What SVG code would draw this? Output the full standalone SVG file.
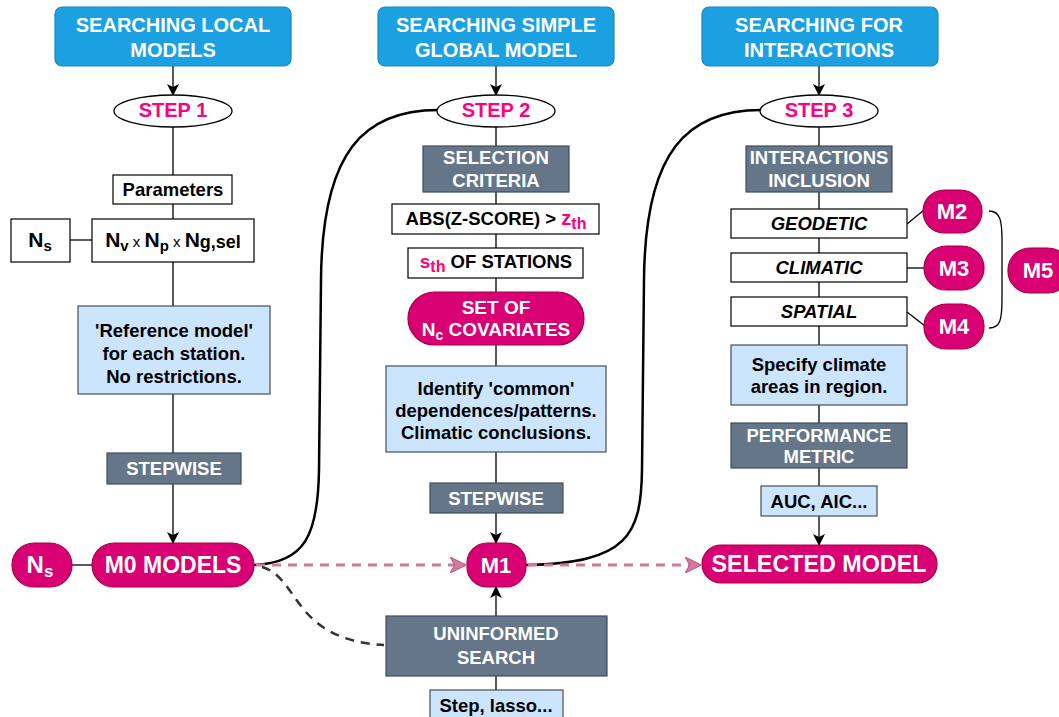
<svg xmlns="http://www.w3.org/2000/svg" width="1059" height="717" viewBox="0 0 1059 717">
<style>
text{font-family:"Liberation Sans",Arial,sans-serif;font-weight:bold;}
.hdr rect{fill:#1ba1e2;stroke:#1a86c4;stroke-width:1.2;}
.hdr text{fill:#fff;font-size:20px;text-anchor:middle;}
.step ellipse{fill:#fff;stroke:#000;stroke-width:1.3;}
.step text{fill:#ff0080;font-size:20px;text-anchor:middle;}
.wbox rect{fill:#fff;stroke:#000;stroke-width:1.2;}
.wbox text{fill:#000;font-size:18.5px;text-anchor:middle;}
.slate rect{fill:#647687;stroke:#3d4d5c;stroke-width:1.2;}
.slate text{fill:#fff;font-size:18.5px;text-anchor:middle;}
.lb rect{fill:#cce5ff;stroke:#4a4d52;stroke-width:1.2;}
.lb text{fill:#000;font-size:18.5px;text-anchor:middle;}
.pk rect{fill:#d80073;stroke:#a50045;stroke-width:1.2;}
.pk text{fill:#fff;font-size:22px;text-anchor:middle;}
.ln{fill:none;stroke:#000;stroke-width:1.3;}
.thick{fill:none;stroke:#000;stroke-width:2.5;}
.pdash{fill:none;stroke:#cf7a9e;stroke-width:3;stroke-dasharray:9 7;}
.ddash{fill:none;stroke:#333;stroke-width:2.5;stroke-dasharray:9 7;}
.pink{fill:#ff0080;}
</style>
<defs>
<marker id="ah" viewBox="0 0 12 12" refX="11" refY="6" markerWidth="12" markerHeight="12" markerUnits="userSpaceOnUse" orient="auto">
<path d="M0,0 L12,6 L0,12 L3,6 Z" fill="#000"/>
</marker>
<marker id="ahp" viewBox="0 0 14 14" refX="13" refY="7" markerWidth="16" markerHeight="16" markerUnits="userSpaceOnUse" orient="auto">
<path d="M0,0 L14,7 L0,14 L4,7 Z" fill="#d27aa0" stroke="#c0608a" stroke-width="1"/>
</marker>
</defs>

<g id="connectors">
<path class="ln" d="M173,66 V95" marker-end="url(#ah)"/>
<path class="ln" d="M496,66 V95" marker-end="url(#ah)"/>
<path class="ln" d="M819,66 V95" marker-end="url(#ah)"/>
<path class="ln" d="M173,127 V175 M173,204 V219 M173,262 V306 M173,394 V453"/>
<path class="ln" d="M173,484 V543" marker-end="url(#ah)"/>
<path class="ln" d="M70,240 H92"/>
<path class="ln" d="M72,565 H92"/>
<path class="ln" d="M496,127 V146 M496,192 V204 M496,234 V248 M496,278 V292 M496,345 V366 M496,452 V483"/>
<path class="ln" d="M496,513 V543" marker-end="url(#ah)"/>
<path class="ln" d="M496,616 V587" marker-end="url(#ah)"/>
<path class="ln" d="M496,690 V676"/>
<path class="ln" d="M819,127 V146 M819,192 V209 M819,238 V253 M819,282 V297 M819,326 V345 M819,405 V423 M819,468 V486"/>
<path class="ln" d="M819,516 V545" marker-end="url(#ah)"/>
<path class="ln" d="M907,224 L924,210"/>
<path class="ln" d="M907,268 H924"/>
<path class="ln" d="M907,312 L925,326"/>
<path class="ln" d="M989,211 C1000,211 1002,220 1002,240 L1002,300 C1002,320 1000,328 989,328"/>
<path class="thick" d="M438,110 C365,110 322,150 321,280 L319,470 C318,535 305,563 254,565"/>
<path class="thick" d="M761,110 C688,110 645,150 644,280 L642,470 C641,535 628,563 526,565"/>
<path class="pdash" d="M256,565 H465" marker-end="url(#ahp)"/>
<path class="pdash" d="M528,565 H700" marker-end="url(#ahp)"/>
<path class="ddash" d="M262,567 C300,578 292,640 384,645"/>
</g>

<g id="hdr1" class="hdr"><rect x="55" y="7" width="236" height="59" rx="7"/><text x="173" y="32">SEARCHING LOCAL</text><text x="173" y="57">MODELS</text></g>
<g id="hdr2" class="hdr"><rect x="378" y="7" width="236" height="59" rx="7"/><text x="496" y="32">SEARCHING SIMPLE</text><text x="496" y="57">GLOBAL MODEL</text></g>
<g id="hdr3" class="hdr"><rect x="702" y="7" width="236" height="59" rx="7"/><text x="819" y="32">SEARCHING FOR</text><text x="819" y="57">INTERACTIONS</text></g>

<g id="step1" class="step"><ellipse cx="173" cy="111" rx="59" ry="16"/><text x="173" y="117">STEP 1</text></g>
<g id="step2" class="step"><ellipse cx="496" cy="111" rx="59" ry="16"/><text x="496" y="117">STEP 2</text></g>
<g id="step3" class="step"><ellipse cx="819" cy="111" rx="59" ry="16"/><text x="819" y="117">STEP 3</text></g>

<g id="params" class="wbox"><rect x="113" y="175" width="119" height="29"/><text x="173" y="196">Parameters</text></g>
<g id="ns1" class="wbox"><rect x="11" y="219" width="59" height="43"/><text x="40" y="247" style="font-size:21px">N<tspan font-size="15" dy="4">s</tspan></text></g>
<g id="nvnp" class="wbox"><rect x="92" y="219" width="162" height="43"/><text x="173" y="247" style="font-size:21px">N<tspan font-size="15" dy="4">v</tspan><tspan font-size="15" font-weight="normal" dy="-4"> x </tspan>N<tspan font-size="15" dy="4">p</tspan><tspan font-size="15" font-weight="normal" dy="-4"> x </tspan>N<tspan font-size="18" dy="1">g,sel</tspan></text></g>
<g id="refmodel" class="lb"><rect x="78" y="306" width="192" height="88"/><text x="174" y="337">'Reference model'</text><text x="174" y="360">for each station.</text><text x="174" y="383">No restrictions.</text></g>
<g id="stepwise1" class="slate"><rect x="107" y="453" width="134" height="31"/><text x="174" y="475">STEPWISE</text></g>
<g id="ns2" class="pk"><rect x="12" y="543" width="60" height="44" rx="22"/><text x="40" y="573" style="font-size:24px">N<tspan font-size="17" dy="4">s</tspan></text></g>
<g id="m0" class="pk"><rect x="92" y="543" width="162" height="44" rx="22"/><text x="173" y="573" style="font-size:23px">M0 MODELS</text></g>

<g id="selcrit" class="slate"><rect x="423" y="146" width="146" height="46"/><text x="496" y="164">SELECTION</text><text x="496" y="187">CRITERIA</text></g>
<g id="abs" class="wbox"><rect x="392" y="204" width="207" height="30"/><text x="496" y="225">ABS(Z-SCORE) &gt; <tspan class="pink" font-size="20">z</tspan><tspan class="pink" font-size="16" dy="4">th</tspan></text></g>
<g id="sth" class="wbox"><rect x="408" y="248" width="175" height="30"/><text x="496" y="268"><tspan class="pink" font-size="19">s</tspan><tspan class="pink" font-size="16" dy="4">th</tspan><tspan dy="-4"> OF STATIONS</tspan></text></g>
<g id="setnc" class="pk"><rect x="408" y="292" width="176" height="53" rx="26.5"/><text x="496" y="314" style="font-size:19px">SET OF</text><text x="496" y="336" style="font-size:19px">N<tspan font-size="14" dy="4">c</tspan><tspan dy="-4"> COVARIATES</tspan></text></g>
<g id="identify" class="lb"><rect x="386" y="366" width="220" height="86"/><text x="496" y="395">Identify 'common'</text><text x="496" y="417">dependences/patterns.</text><text x="496" y="439">Climatic conclusions.</text></g>
<g id="stepwise2" class="slate"><rect x="430" y="483" width="133" height="30"/><text x="496" y="505">STEPWISE</text></g>
<g id="m1" class="pk"><rect x="467" y="543" width="59" height="44" rx="20"/><text x="496" y="573">M1</text></g>
<g id="uninformed" class="slate"><rect x="386" y="616" width="221" height="60"/><text x="496" y="640">UNINFORMED</text><text x="496" y="664">SEARCH</text></g>
<g id="steplasso" class="lb"><rect x="430" y="690" width="133" height="32"/><text x="496" y="712">Step, lasso...</text></g>

<g id="interactions" class="slate"><rect x="746" y="146" width="146" height="46"/><text x="819" y="164">INTERACTIONS</text><text x="819" y="187">INCLUSION</text></g>
<g id="geodetic" class="wbox"><rect x="731" y="209" width="176" height="29"/><text x="819" y="230" font-style="italic">GEODETIC</text></g>
<g id="climatic" class="wbox"><rect x="731" y="253" width="176" height="29"/><text x="819" y="274" font-style="italic">CLIMATIC</text></g>
<g id="spatial" class="wbox"><rect x="731" y="297" width="176" height="29"/><text x="819" y="318" font-style="italic">SPATIAL</text></g>
<g id="m2" class="pk"><rect x="923" y="190" width="59" height="43" rx="21.5"/><text x="952" y="219">M2</text></g>
<g id="m3" class="pk"><rect x="924" y="246" width="60" height="44" rx="22"/><text x="954" y="276">M3</text></g>
<g id="m4" class="pk"><rect x="924" y="304" width="60" height="45" rx="22"/><text x="954" y="334">M4</text></g>
<g id="m5" class="pk"><rect x="1008" y="248" width="62" height="45" rx="22"/><text x="1038" y="278">M5</text></g>
<g id="specify" class="lb"><rect x="731" y="345" width="176" height="60"/><text x="819" y="371">Specify climate</text><text x="819" y="393">areas in region.</text></g>
<g id="perf" class="slate"><rect x="731" y="423" width="176" height="45"/><text x="819" y="442">PERFORMANCE</text><text x="819" y="463">METRIC</text></g>
<g id="auc" class="lb"><rect x="761" y="486" width="116" height="30"/><text x="819" y="508">AUC, AIC...</text></g>
<g id="selected" class="pk"><rect x="702" y="545" width="235" height="38" rx="19"/><text x="819" y="572" style="font-size:23.3px">SELECTED MODEL</text></g>
</svg>
